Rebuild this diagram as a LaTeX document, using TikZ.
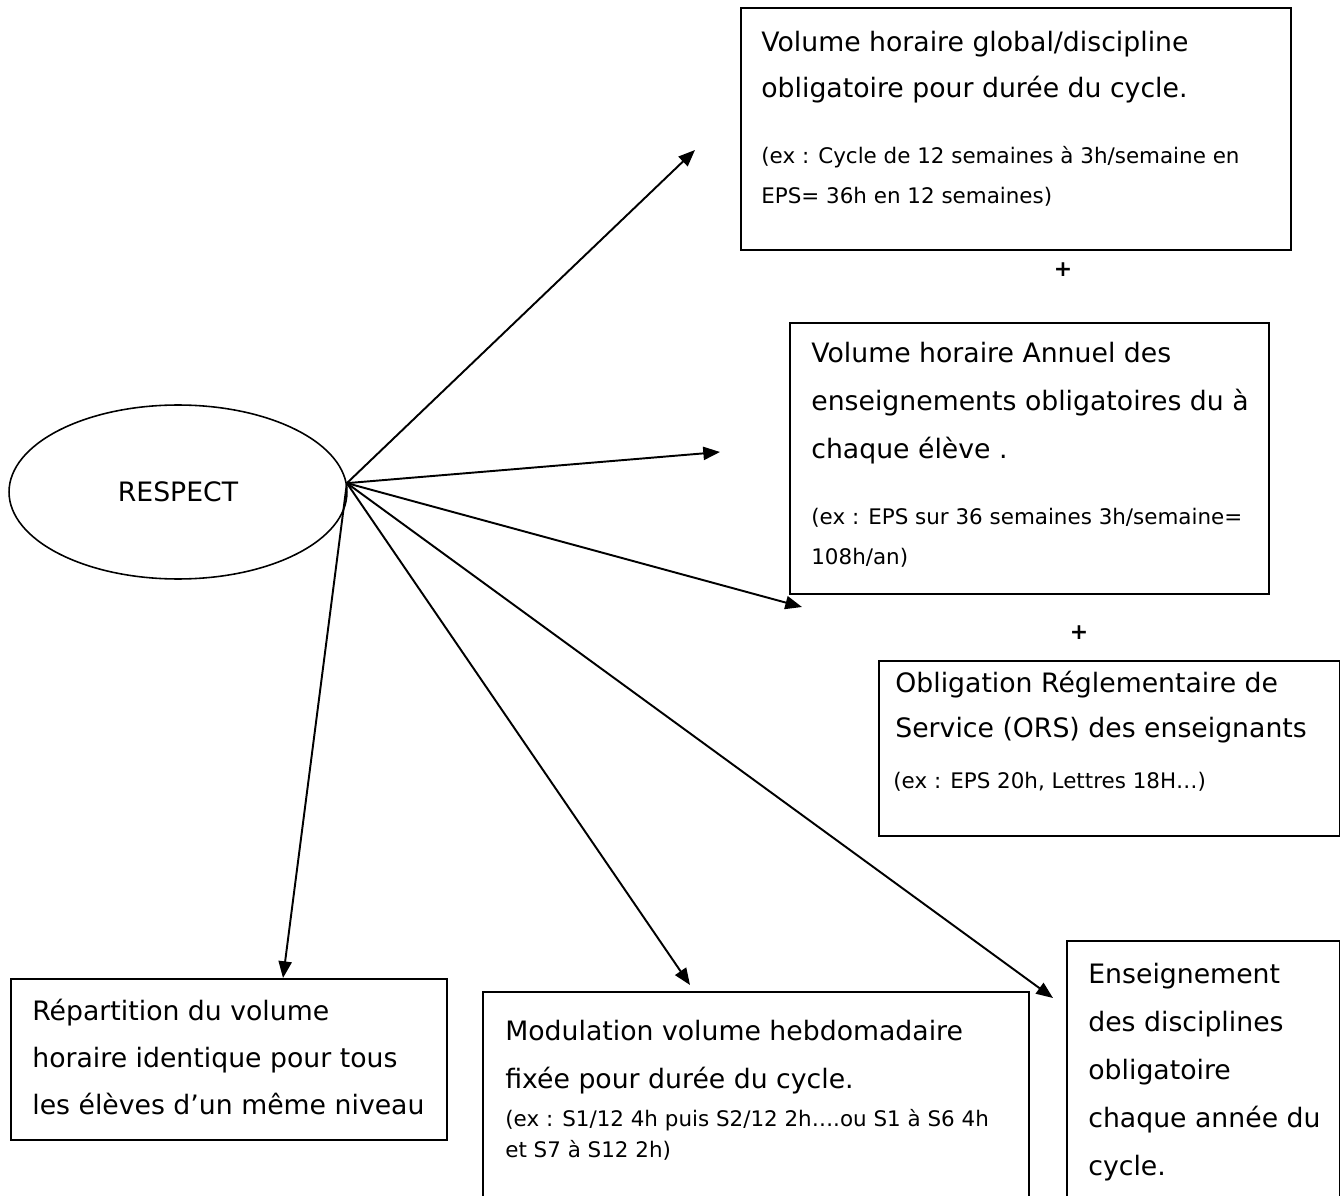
\documentclass[tikz,border=0pt]{standalone}
\usepackage{fontspec}
\setmainfont{DejaVu Sans}
\usetikzlibrary{arrows.meta,shapes.geometric}

\tikzset{
  boite/.style={draw, line width=1.1pt, anchor=north west, inner sep=0pt},
  ligne/.style={anchor=base west, inner sep=0pt, font=\fontsize{15.2}{18}\selectfont},
  petit/.style={anchor=base west, inner sep=0pt, font=\fontsize{12.2}{15}\selectfont},
  plus/.style={inner sep=0pt, font=\bfseries\fontsize{12.5}{14}\selectfont},
  fleche/.style={-{Triangle[length=9.5pt,width=7.5pt]}, line width=1.1pt}
}

\begin{document}
\begin{tikzpicture}[x=0.02cm, y=-0.02cm]
    \useasboundingbox (0,0) rectangle (1340,1196);

    % Ellipse centrale
    \node[draw, ellipse, line width=0.9pt, minimum width=6.76cm, minimum height=3.48cm,
          font=\fontsize{15.2}{18}\selectfont] (respect) at (178,492) {RESPECT};

    % Cadres
    \node[boite, minimum width=11cm, minimum height=4.84cm] (vol) at (740,7) {};
    \node[boite, minimum width=9.58cm, minimum height=5.42cm] (annuel) at (789,322) {};
    \node[boite, minimum width=9.22cm, minimum height=3.5cm] (ors) at (878,660) {};
    \node[boite, minimum width=8.72cm, minimum height=3.22cm] (repart) at (10,978) {};
    \node[boite, minimum width=10.92cm, minimum height=6cm] (modul) at (482,991) {};
    \node[boite, minimum width=5.46cm, minimum height=6cm] (enseig) at (1066,940) {};

    % Textes du cadre volume global
    \foreach \t [count=\i from 0] in {Volume horaire global/discipline, obligatoire pour durée du cycle.}
        \node[ligne] (voltxt\i) at (761,52+46*\i) {\t};
    \foreach \t [count=\i from 0] in {{(ex : Cycle de 12 semaines à 3h/semaine en}, {EPS= 36h en 12 semaines)}}
        \node[petit] (volex\i) at (761,164+40*\i) {\t};

    % Textes du cadre volume annuel
    \foreach \t [count=\i from 0] in {Volume horaire Annuel des, enseignements obligatoires du à, chaque élève .}
        \node[ligne] (anntxt\i) at (811,363+48*\i) {\t};
    \foreach \t [count=\i from 0] in {{(ex : EPS sur 36 semaines 3h/semaine=}, {108h/an)}}
        \node[petit] (annex\i) at (811,524+40*\i) {\t};

    % Textes du cadre ORS
    \foreach \t [count=\i from 0] in {Obligation Réglementaire de, Service (ORS) des enseignants}
        \node[ligne] (orstxt\i) at (895,692+45*\i) {\t};
    \node[petit] (orsex) at (893,788) {(ex : EPS 20h, Lettres 18H…)};

    % Signes plus
    \node[plus] (plus1) at (1063,270) {+};
    \node[plus] (plus2) at (1079,633) {+};

    % Textes des cadres du bas
    \foreach \t [count=\i from 0] in {Répartition du volume, horaire identique pour tous, les élèves d’un même niveau}
        \node[ligne] (reptxt\i) at (32,1020+47*\i) {\t};
    \foreach \t [count=\i from 0] in {Modulation volume hebdomadaire, fixée pour durée du cycle.}
        \node[ligne] (modtxt\i) at (505,1040+48*\i) {\t};
    \foreach \t [count=\i from 0] in {{(ex : S1/12 4h puis S2/12 2h….ou S1 à S6 4h}, {et S7 à S12 2h)}}
        \node[petit] (modex\i) at (505,1126+31*\i) {\t};
    \foreach \t [count=\i from 0] in {Enseignement, des disciplines, obligatoire, chaque année du, cycle.}
        \node[ligne] (enstxt\i) at (1088,983+48*\i) {\t};

    % Pointes des fleches
    \coordinate (p1) at (695,150);
    \coordinate (p2) at (720,452);
    \coordinate (p3) at (802,607);
    \coordinate (p4) at (1053,998);
    \coordinate (p5) at (690,985);
    \coordinate (p6) at (283,978);

    \foreach \p in {p1,p2,p3,p4,p5,p6}
        \draw[fleche] (respect.3) -- (\p);
\end{tikzpicture}
\end{document}
